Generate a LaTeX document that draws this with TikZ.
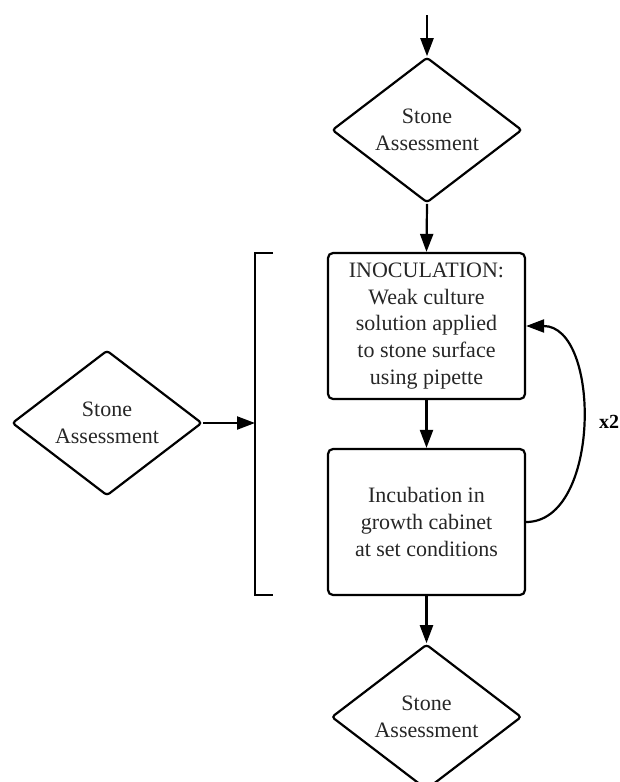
\documentclass[tikz,border=0pt]{standalone}
\usepackage{fontspec}
\setmainfont{Liberation Serif}
\usetikzlibrary{shapes.geometric,arrows.meta}
\begin{document}
\begin{tikzpicture}[x=1pt,y=-1pt,
  line width=2.2pt,
  every node/.style={font=\fontsize{22}{26.7}\selectfont, text=black!85},
  dia/.style={draw, shape=diamond, minimum width=190pt, minimum height=142pt,
    inner sep=0pt, rounded corners=3pt, align=center},
  box/.style={draw, rectangle, minimum width=197pt, minimum height=146pt,
    rounded corners=5pt, align=center, inner sep=2pt},
  arr/.style={-{Triangle[length=18pt,width=13pt]}}]
\useasboundingbox (0,0) rectangle (620,782);
\coordinate (start) at (427,15);
\node[dia] (d1) at (427,130) {Stone\\Assessment};
\node[box] (b1) at (426.5,326) {INOCULATION:\\Weak culture\\solution applied\\to stone surface\\using pipette};
\node[box] (b2) at (426.5,522) {Incubation in\\growth cabinet\\at set conditions};
\node[dia] (d2) at (107,423) {Stone\\Assessment};
\node[dia] (d3) at (426.5,717) {Stone\\Assessment};
\coordinate (bt) at (273,253);
\coordinate (btl) at (255,253);
\coordinate (bbl) at (255,595);
\coordinate (bb) at (273,595);
\coordinate (bm) at (255,423);
\draw (bt) -- (btl) -- (bbl) -- (bb);
\draw[arr] (start) -- (d1.north);
\draw[arr] (d1.south) -- (b1.north);
\draw[arr] (b1.south) -- (b2.north);
\draw[arr] (b2.south) -- (d3.north);
\draw[arr] (d2.east) -- (bm);
\draw[arr] (b2.east) .. controls +(75,0) and +(75,0) .. (b1.east);
\node[font=\bfseries\fontsize{20}{24}\selectfont, text=black] (x2) at (609,422) {x2};
\end{tikzpicture}
\end{document}
